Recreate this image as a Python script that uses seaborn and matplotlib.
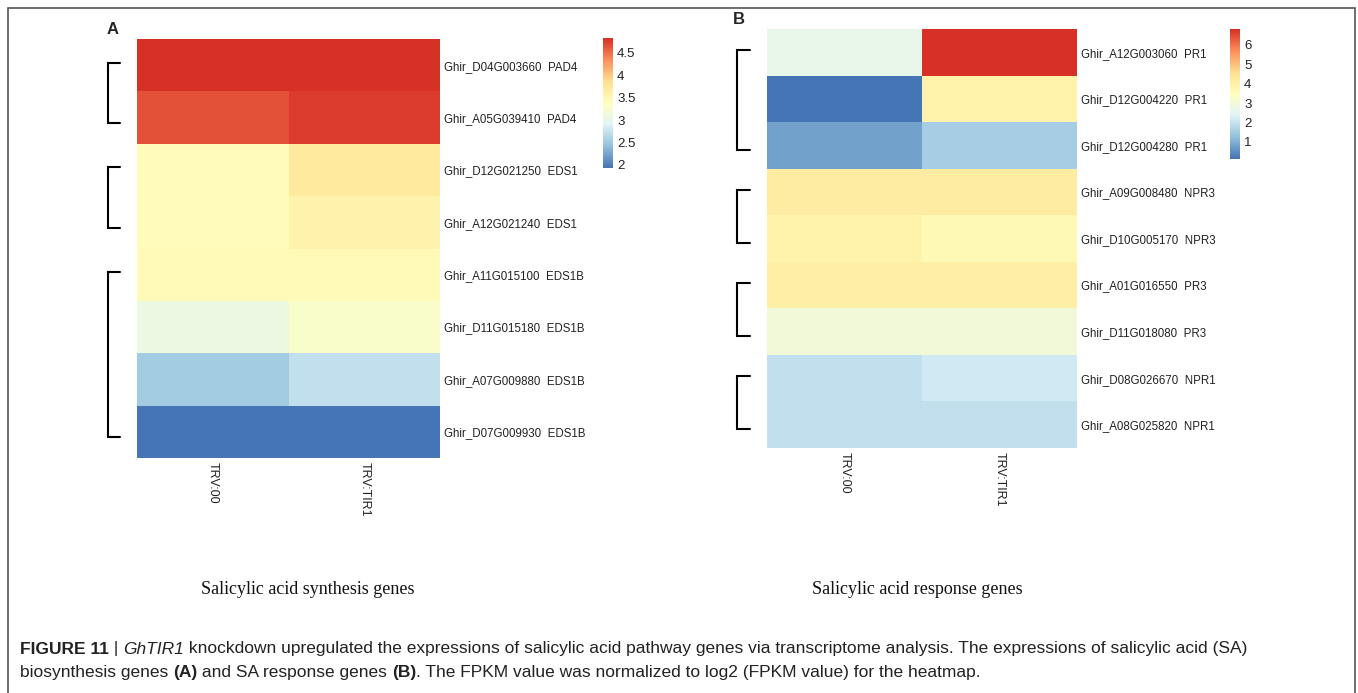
import numpy as np
import pandas as pd
import matplotlib
matplotlib.use("Agg")
import matplotlib.pyplot as plt
import matplotlib.transforms as mtransforms
from matplotlib.colors import LinearSegmentedColormap
from matplotlib.patches import Rectangle
from matplotlib.ticker import FormatStrFormatter
import seaborn as sns

# ---------------- data ----------------
samples = ["TRV:00", "TRV:TIR1"]

genes_A = ["Ghir_D04G003660", "Ghir_A05G039410", "Ghir_D12G021250", "Ghir_A12G021240",
           "Ghir_A11G015100", "Ghir_D11G015180", "Ghir_A07G009880", "Ghir_D07G009930"]
names_A = ["PAD4", "PAD4", "EDS1", "EDS1", "EDS1B", "EDS1B", "EDS1B", "EDS1B"]
trv00_A = [4.83, 4.66, 3.42, 3.42, 3.45, 3.09, 2.52, 1.93]
tir1_A = [4.83, 4.77, 3.72, 3.58, 3.45, 3.28, 2.72, 1.93]
ticks_A = [2, 2.5, 3, 3.5, 4, 4.5]
groups_A = [(0, 1), (2, 3), (4, 7)]

genes_B = ["Ghir_A12G003060", "Ghir_D12G004220", "Ghir_D12G004280", "Ghir_A09G008480",
           "Ghir_D10G005170", "Ghir_A01G016550", "Ghir_D11G018080", "Ghir_D08G026670",
           "Ghir_A08G025820"]
names_B = ["PR1", "PR1", "PR1", "NPR3", "NPR3", "PR3", "PR3", "NPR1", "NPR1"]
trv00_B = [2.65, 0.12, 0.80, 4.15, 3.95, 4.05, 2.95, 1.95, 1.95]
tir1_B = [6.82, 3.95, 1.55, 4.15, 3.70, 4.05, 2.95, 2.15, 1.95]
ticks_B = [1, 2, 3, 4, 5, 6]
groups_B = [(0, 2), (3, 4), (5, 6), (7, 8)]

title_A = "Salicylic acid synthesis genes"
title_B = "Salicylic acid response genes"

# ---------------- style ----------------
sns.set_theme(style="white")
plt.rcParams["font.family"] = ["Liberation Sans", "DejaVu Sans"]

W, H = 1358, 693
fig = plt.figure(figsize=(W / 100, H / 100), dpi=100)
fig.patch.set_facecolor("white")

cmap = LinearSegmentedColormap.from_list(
    "pheat", ["#4575B4", "#91BFDB", "#E0F3F8", "#FFFFBF", "#FEE090", "#FC8D59", "#D73027"])


def px_axes(x0, y0, x1, y1):
    return fig.add_axes([x0 / W, 1 - y1 / H, (x1 - x0) / W, (y1 - y0) / H])


def panel(box, cbox, genes, names, v0, v1, ticks, groups, bx):
    ax = px_axes(*box)
    cax = px_axes(*cbox)
    df = pd.DataFrame({samples[0]: v0, samples[1]: v1},
                      index=[f"{g}  {n}" for g, n in zip(genes, names)])
    vals = np.array([v0, v1])
    sns.heatmap(df, ax=ax, cbar_ax=cax, cmap=cmap, vmin=vals.min(), vmax=vals.max(),
                linewidths=0, xticklabels=True, yticklabels=True,
                cbar_kws={"ticks": ticks, "format": FormatStrFormatter("%g")})
    ax.yaxis.tick_right()
    ax.tick_params(axis="y", length=0, pad=3, labelsize=8.3, colors="#222222",
                   labelright=True, labelleft=False)
    for t in ax.get_yticklabels():
        t.set_rotation(0)
    ax.tick_params(axis="x", length=0, pad=3, labelsize=9, colors="#222222")
    for t in ax.get_xticklabels():
        t.set_rotation(270)
        t.set_va("top")
        t.set_ha("center")
    ax.set_xlabel("")
    ax.set_ylabel("")
    cax.tick_params(length=0, labelsize=9.5, colors="#222222", pad=3)
    for s in cax.spines.values():
        s.set_visible(False)
    # brackets grouping rows
    tr = mtransforms.blended_transform_factory(ax.transAxes, ax.transData)
    for (a, b) in groups:
        y0, y1 = a + 0.45, b + 0.6
        ax.plot([bx[1], bx[0], bx[0], bx[1]], [y0, y0, y1, y1], color="black",
                lw=1.5, transform=tr, clip_on=False, solid_joinstyle="miter")
    return ax


panel((137, 39, 440, 458), (603, 38, 613, 168), genes_A, names_A, trv00_A, tir1_A,
      ticks_A, groups_A, (-0.096, -0.056))
panel((767, 29, 1077, 448), (1230, 29, 1240, 159), genes_B, names_B, trv00_B, tir1_B,
      ticks_B, groups_B, (-0.097, -0.055))

fig.text(107 / W, 1 - 30 / H, "A", fontsize=12, fontweight="bold", ha="left", va="center")
fig.text(733 / W, 1 - 19 / H, "B", fontsize=12, fontweight="bold", ha="left", va="center")

fig.text(308 / W, 1 - 590 / H, title_A, family=["Liberation Serif", "DejaVu Serif"],
         fontsize=13, ha="center", va="center", color="#111111")
fig.text(917 / W, 1 - 590 / H, title_B, family=["Liberation Serif", "DejaVu Serif"],
         fontsize=13, ha="center", va="center", color="#111111")

# frame
fig.add_artist(Rectangle((8 / W, -0.01), (1355 - 8) / W, (1 - 8 / H) + 0.01,
                         transform=fig.transFigure, fill=False, edgecolor="#555555", lw=1.2))

# caption with mixed styles
cap_family = ["Liberation Sans", "DejaVu Sans"]
lines = [
    [("FIGURE 11", "bold", "normal"), (" | ", "normal", "normal"), ("GhTIR1", "normal", "italic"),
     (" knockdown upregulated the expressions of salicylic acid pathway genes via transcriptome "
      "analysis. The expressions of salicylic acid (SA)", "normal", "normal")],
    [("biosynthesis genes ", "normal", "normal"), ("(A)", "bold", "normal"),
     (" and SA response genes ", "normal", "normal"), ("(B)", "bold", "normal"),
     (". The FPKM value was normalized to log2 (FPKM value) for the heatmap.", "normal", "normal")],
]
renderer = fig.canvas.get_renderer()
for i, parts in enumerate(lines):
    x = 20
    y = 649 + i * 24
    for txt, wt, st in parts:
        t = fig.text(x / W, 1 - y / H, txt, family=cap_family, fontsize=12.5,
                     fontweight=wt, fontstyle=st, ha="left", va="center", color="#222222")
        bb = t.get_window_extent(renderer)
        x = bb.x1

fig.savefig("out.png", dpi=100)
